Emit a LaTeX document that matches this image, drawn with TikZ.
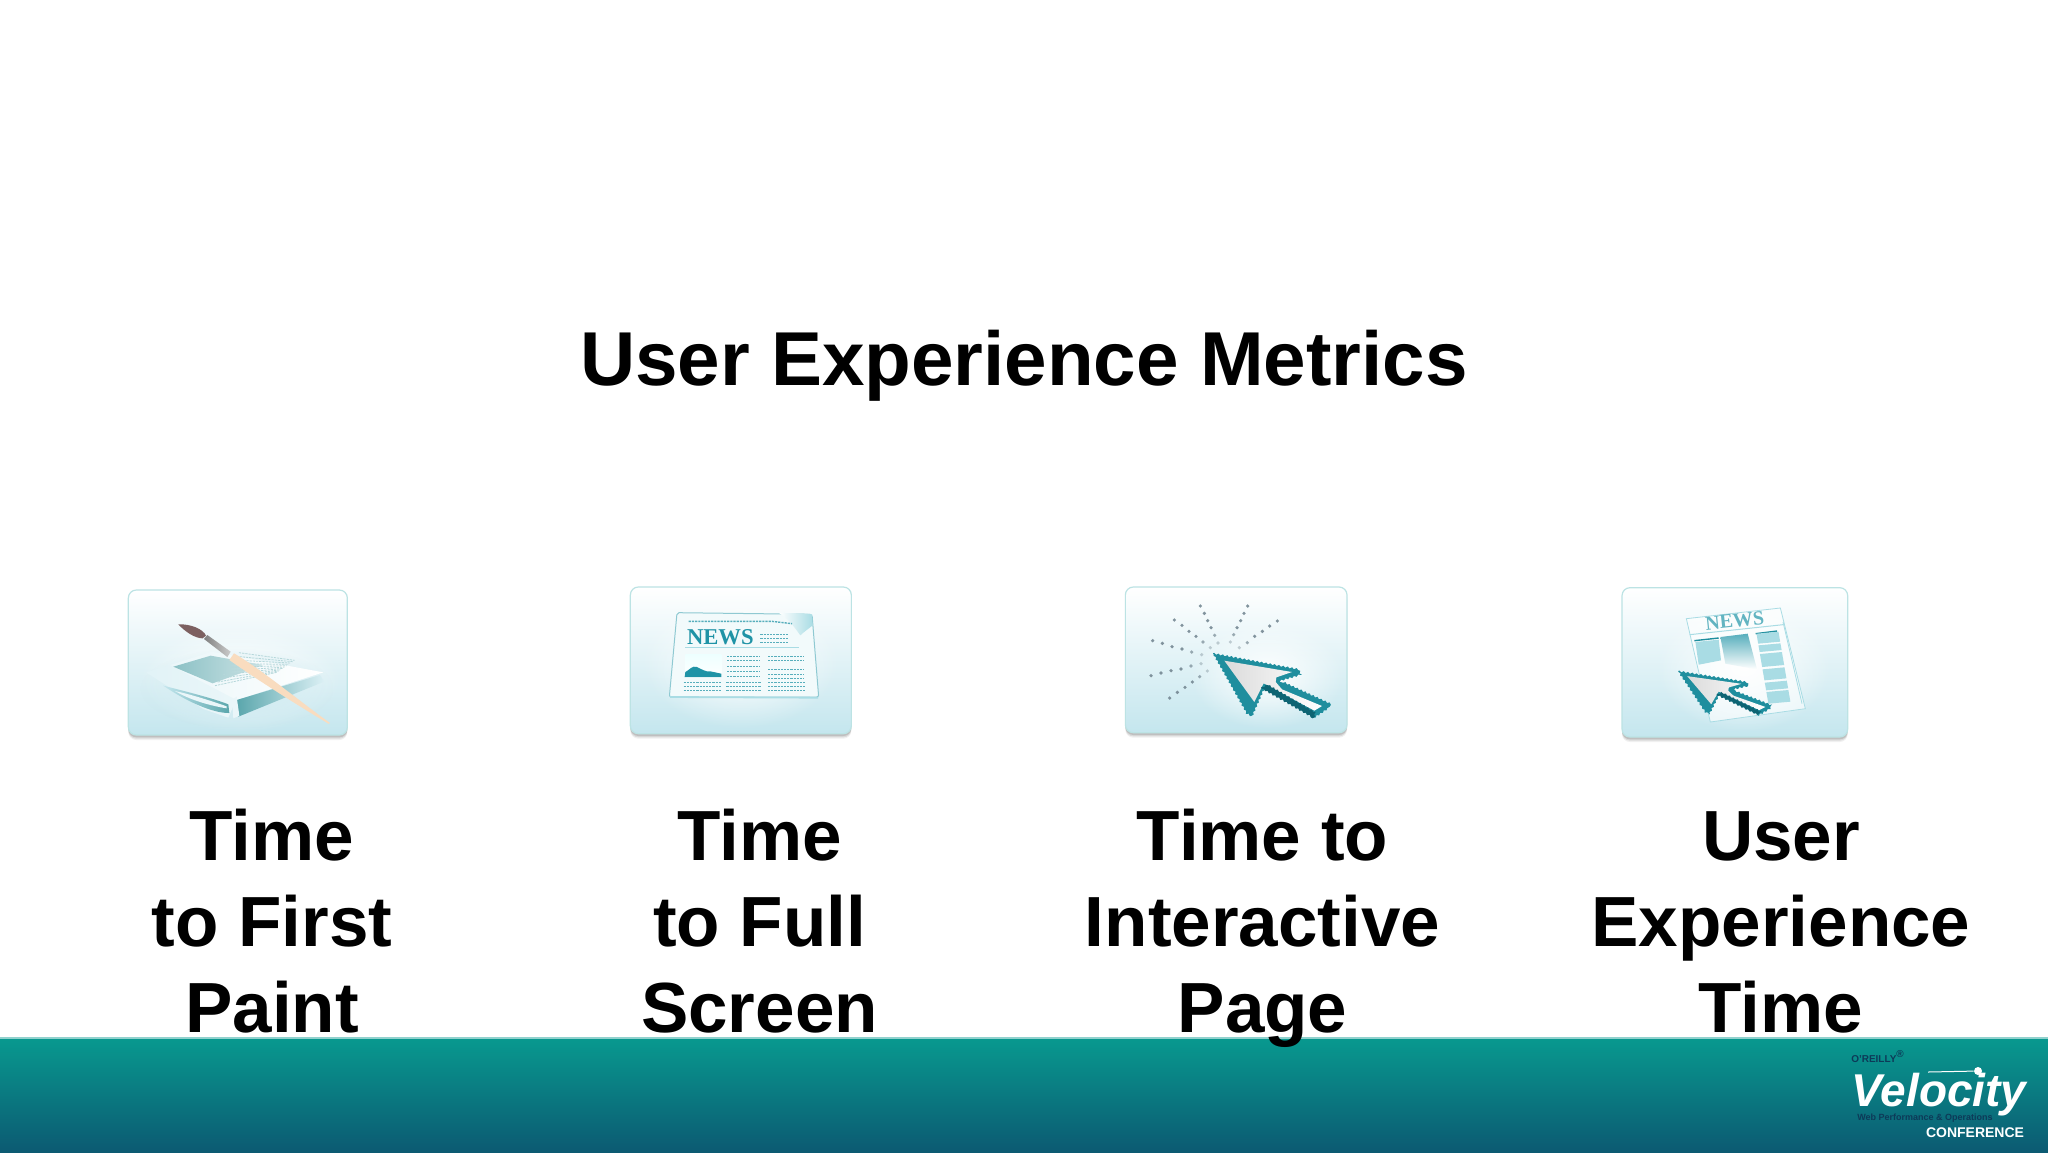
\documentclass[tikz,border=0pt]{standalone}
\usepackage{fontspec}
\setmainfont{Liberation Sans}
\newfontfamily\newsfont{Liberation Serif}
\usetikzlibrary{decorations.pathmorphing,fadings}
\definecolor{bandtop}{HTML}{08998F}
\definecolor{bandlow}{HTML}{0C5A72}
\definecolor{iconlow}{HTML}{C4E6EE}
\definecolor{iconmid}{HTML}{EAF6F9}
\definecolor{iconedge}{HTML}{BCE3E4}
\definecolor{newsteal}{HTML}{1F93A6}
\definecolor{newspale}{HTML}{A9DCE4}
\definecolor{cursorteal}{HTML}{1F8E9E}
\definecolor{cursordark}{HTML}{0E6473}
\definecolor{bookteal}{HTML}{5AA6AC}
\definecolor{logonavy}{HTML}{0D3A58}
\tikzfading[name=softglow, inner color=transparent!0, outer color=transparent!100]
\tikzset{
	headtext/.style={inner sep=0pt, anchor=base, font=\bfseries\fontsize{38.2}{46}\selectfont},
	labeltext/.style={inner sep=0pt, anchor=base, align=center, font=\bfseries\fontsize{35.5}{43}\selectfont},
	zoomed/.style={x=0.16667pt, y=-0.16667pt},
	iconface/.style={draw=iconedge, line width=0.6pt, rounded corners=4pt,
		top color=white, middle color=iconmid, bottom color=iconlow},
	printline/.style={draw=newsteal!75!white, line width=0.4pt, dash pattern=on 1.1pt off 0.5pt},
	pixeledge/.style={decorate, decoration={zigzag, segment length=2.2pt, amplitude=0.4pt}},
	raydot/.style={fill=black!45!cyan!40!gray},
}
\newcommand{\iconbox}[4]{
	\foreach \s/\o in {15/.06,11/.09,7/.12}
		\fill[black, opacity=\o, rounded corners=4pt] (#1,#2+\s) rectangle (#3,#4+\s);
	\path[iconface] (#1,#2) rectangle (#3,#4);
}
\newcommand{\cursorarrow}{
	\fill[cursorteal, pixeledge] (288,214) -- (545,262) -- (552,278) -- (490,296) -- (640,365)
		-- (632,380) -- (590,408) -- (442,318) -- (405,403) -- (390,395) -- cycle;
	\shade[left color=black!14, right color=white] (322,236) -- (525,270) -- (478,286) -- (476,300)
		-- (495,322) -- (615,372) -- (592,386) -- (440,304) -- (412,360) -- cycle;
	\fill[cursordark, pixeledge] (432,318) -- (452,308) -- (596,392) -- (590,408) -- cycle;
}
\begin{document}
\begin{tikzpicture}[x=0.5pt, y=-0.5pt]
	\useasboundingbox (0,0) rectangle (2048,1152);
	\fill[white] (0,0) rectangle (2048,1152);
	\shade[top color=bandtop, bottom color=bandlow] (0,1038) rectangle (2048,1152);
	\draw[bandtop!45!white, line width=0.6pt] (0,1038) -- (2048,1038);

	\node[headtext] (title) at (1024,385.5) {User Experience Metrics};
	\node[labeltext] (paint) at (272,1032) {Time\\to First\\Paint};
	\node[labeltext] (screen) at (759.5,1032) {Time\\to Full\\Screen};
	\node[labeltext] (page) at (1262.5,1032) {Time to\\Interactive\\Page};
	\node[labeltext] (uxtime) at (1781,1032) {User\\Experience\\Time};

	% brush and magazine
	\begin{scope}[shift={(120,585)}, zoomed]
		\iconbox{25}{15}{682}{450}
		\fill[white, path fading=softglow] (60,120) rectangle (660,440);
		\fill[iconlow, path fading=softglow] (60,190) rectangle (640,430);
		\shade[left color=iconlow!50, right color=iconmid] (78,262) -- (150,240) -- (350,340) -- (325,398) -- (250,372) -- cycle;
		\shade[left color=iconmid, right color=white] (150,240) -- (275,200) -- (610,262) -- (350,345) -- cycle;
		\shade[left color=bookteal!70, right color=bookteal!30] (160,245) -- (272,212) -- (430,240) -- (278,295) -- cycle;
		\shade[left color=bookteal, right color=iconlow!60] (350,345) -- (600,270) -- (612,290) -- (355,395) -- cycle;
		\shade[left color=iconlow, right color=bookteal] (130,302) .. controls (200,320) and (280,340) .. (325,358) -- (328,384) .. controls (280,385) and (200,350) .. cycle;
		\fill[iconmid] (165,318) .. controls (220,330) and (280,350) .. (320,364) -- (320,370) .. controls (270,362) and (210,345) .. cycle;
		\fill[iconmid] (336,345) -- (350,335) -- (358,392) -- (340,400) -- cycle;
		\foreach \i in {0,...,9}
			\draw[printline, draw=bookteal!45] (285+8*\i,302-11*\i) -- (470+6*\i,262-4*\i);
		\shade[left color=black!50, right color=black!20] (262,150) -- (332,200) -- (322,216) -- (252,162) -- cycle;
		\fill[black!10!orange!25!white] (342,205) .. controls (420,250) and (560,365) .. (629,413) -- (627,417) .. controls (540,365) and (420,290) .. (328,225) -- cycle;
		\fill[black!55!red!25!gray] (175,118) .. controls (210,116) and (250,132) .. (258,152) -- (248,160) .. controls (225,160) and (195,140) .. cycle;
	\end{scope}

	% newspaper front page
	\begin{scope}[shift={(622,582)}, zoomed]
		\iconbox{25}{15}{688}{455}
		\fill[white, path fading=softglow] (60,30) rectangle (650,440);
		\path[draw=newsteal!50, fill=iconmid!60, line width=0.5pt, rounded corners=1pt] (165,92) -- (570,97) -- (590,345) -- (142,345) -- cycle;
		\draw[newspale, line width=0.9pt, rounded corners=1pt] (144,345) -- (588,347);
		\shade[left color=white, right color=newspale] (470,92) .. controls (510,95) and (545,92) .. (570,97) -- (572,130) .. controls (560,140) and (545,150) .. (535,160) .. controls (520,140) and (505,115) .. cycle;
		\draw[printline, line width=0.7pt] (200,118) -- (450,118) -- (510,125);
		\node[inner sep=0pt, anchor=base, text=newsteal, font=\newsfont\bfseries\fontsize{11.3}{12}\selectfont] (newsa) at (295,188) {NEWS};
		\foreach \y in {156,169,182}
			\draw[printline] (415,\y) -- (500,\y);
		\draw[newspale, line width=0.4pt] (190,197) -- (530,197);
		\shade[top color=newspale!150!newsteal, bottom color=white] (190,218) rectangle (298,285);
		\fill[newsteal] (188,285) -- (190,270) .. controls (205,262) and (210,250) .. (225,255) .. controls (240,262) and (250,270) .. (265,268) -- (298,275) -- (298,285) -- cycle;
		\foreach \y in {222,236,254,268,282}
			\draw[printline] (315,\y) -- (415,\y);
		\foreach \y in {222,236,262,276,290}
			\draw[printline] (438,\y) -- (546,\y);
		\foreach \y in {300,312,325}{
			\draw[printline] (185,\y) -- (298,\y);
			\draw[printline] (313,\y) -- (418,\y);
			\draw[printline] (438,\y) -- (548,\y);
		}
	\end{scope}

	% pointer with rays
	\begin{scope}[shift={(1117,582)}, zoomed]
		\iconbox{25}{15}{690}{452}
		\fill[white, path fading=softglow] (220,120) rectangle (680,440);
		\foreach \a/\b/\o in {250/72/.9,262/94/.9,272/116/.9,282/137/.9,293/160/.7,303/183/.4,
			392/72/.9,381/94/.9,371/116/.9,360/137/.9,350/158/.7,340/180/.4,
			172/114/.9,195/130/.9,216/148/.9,237/163/.9,258/180/.7,280/197/.4,
			481/117/.9,458/132/.9,436/148/.9,413/163/.9,391/182/.7,367/197/.4,
			107/176/.9,136/184/.9,165/194/.9,195/201/.9,224/210/.7,254/218/.4,
			102/281/.9,132/273/.9,162/266/.9,192/261/.9,222/252/.7,252/245/.4,
			158/348/.9,181/331/.9,204/316/.9,226/300/.9,248/284/.7,271/267/.4}
			\fill[raydot, opacity=\o] (\a,\b) circle (0.9pt);
		\cursorarrow
	\end{scope}

	% pointer over page
	\begin{scope}[shift={(1617,582)}, zoomed]
		\iconbox{15}{17}{692}{465}
		\fill[white, path fading=softglow] (120,60) rectangle (640,450);
		\path[fill=white, fill opacity=.6, draw=newspale, line width=0.4pt] (208,110) -- (490,78) -- (565,380) -- (280,420) -- cycle;
		\draw[newspale, line width=0.4pt] (498,120) -- (555,365);
		\node[inner sep=0pt, rotate=6, text=newsteal!70!white, font=\newsfont\bfseries\fontsize{10}{11}\selectfont] (newsb) at (353,116) {NEWS};
		\draw[newspale, line width=0.5pt] (218,158) -- (498,128);
		\draw[cursorteal, line width=0.7pt] (232,176) -- (305,168) (416,155) -- (480,147);
		\fill[newspale] (235,180) -- (305,173) -- (312,235) -- (245,248) -- cycle;
		\shade[top color=newsteal!75!white, bottom color=white] (310,165) -- (392,155) -- (420,262) -- (325,245) -- cycle;
		\foreach \p/\q in {155/185,190/210,216/255,262/295,302/325,330/365}
			\fill[newspale] (418+.17*\p-26,\p) -- (484+.17*\p-26,\p-6) -- (484+.17*\q-26,\q-6) -- (418+.17*\q-26,\q) -- cycle;
		\begin{scope}[shift={(185,268)}, xscale=.8, yscale=.68, shift={(-290,-215)}]
			\cursorarrow
		\end{scope}
	\end{scope}

	% conference logo
	\node[inner sep=0pt, anchor=base, text=logonavy, font=\bfseries\fontsize{5}{6}\selectfont] (oreilly) at (1878,1062) {O'REILLY\textsuperscript{®}};
	\node[inner sep=0pt, anchor=base, text=white, font=\bfseries\itshape\fontsize{23}{24}\selectfont] (velocity) at (1939,1106) {Velocity};
	\coordinate (swoosh) at (1928,1072);
	\node[circle, fill=white, inner sep=0pt, minimum size=4pt] (spark) at (1978,1071) {};
	\draw[white, line width=0.5pt] (swoosh) -- (spark);
	\node[inner sep=0pt, anchor=base, text=logonavy, font=\bfseries\fontsize{4.5}{5}\selectfont] (tagline) at (1925,1120) {Web Performance \& Operations};
	\node[inner sep=0pt, anchor=base, text=white, font=\bfseries\fontsize{7}{8}\selectfont] (conference) at (1975,1137) {CONFERENCE};
\end{tikzpicture}
\end{document}
